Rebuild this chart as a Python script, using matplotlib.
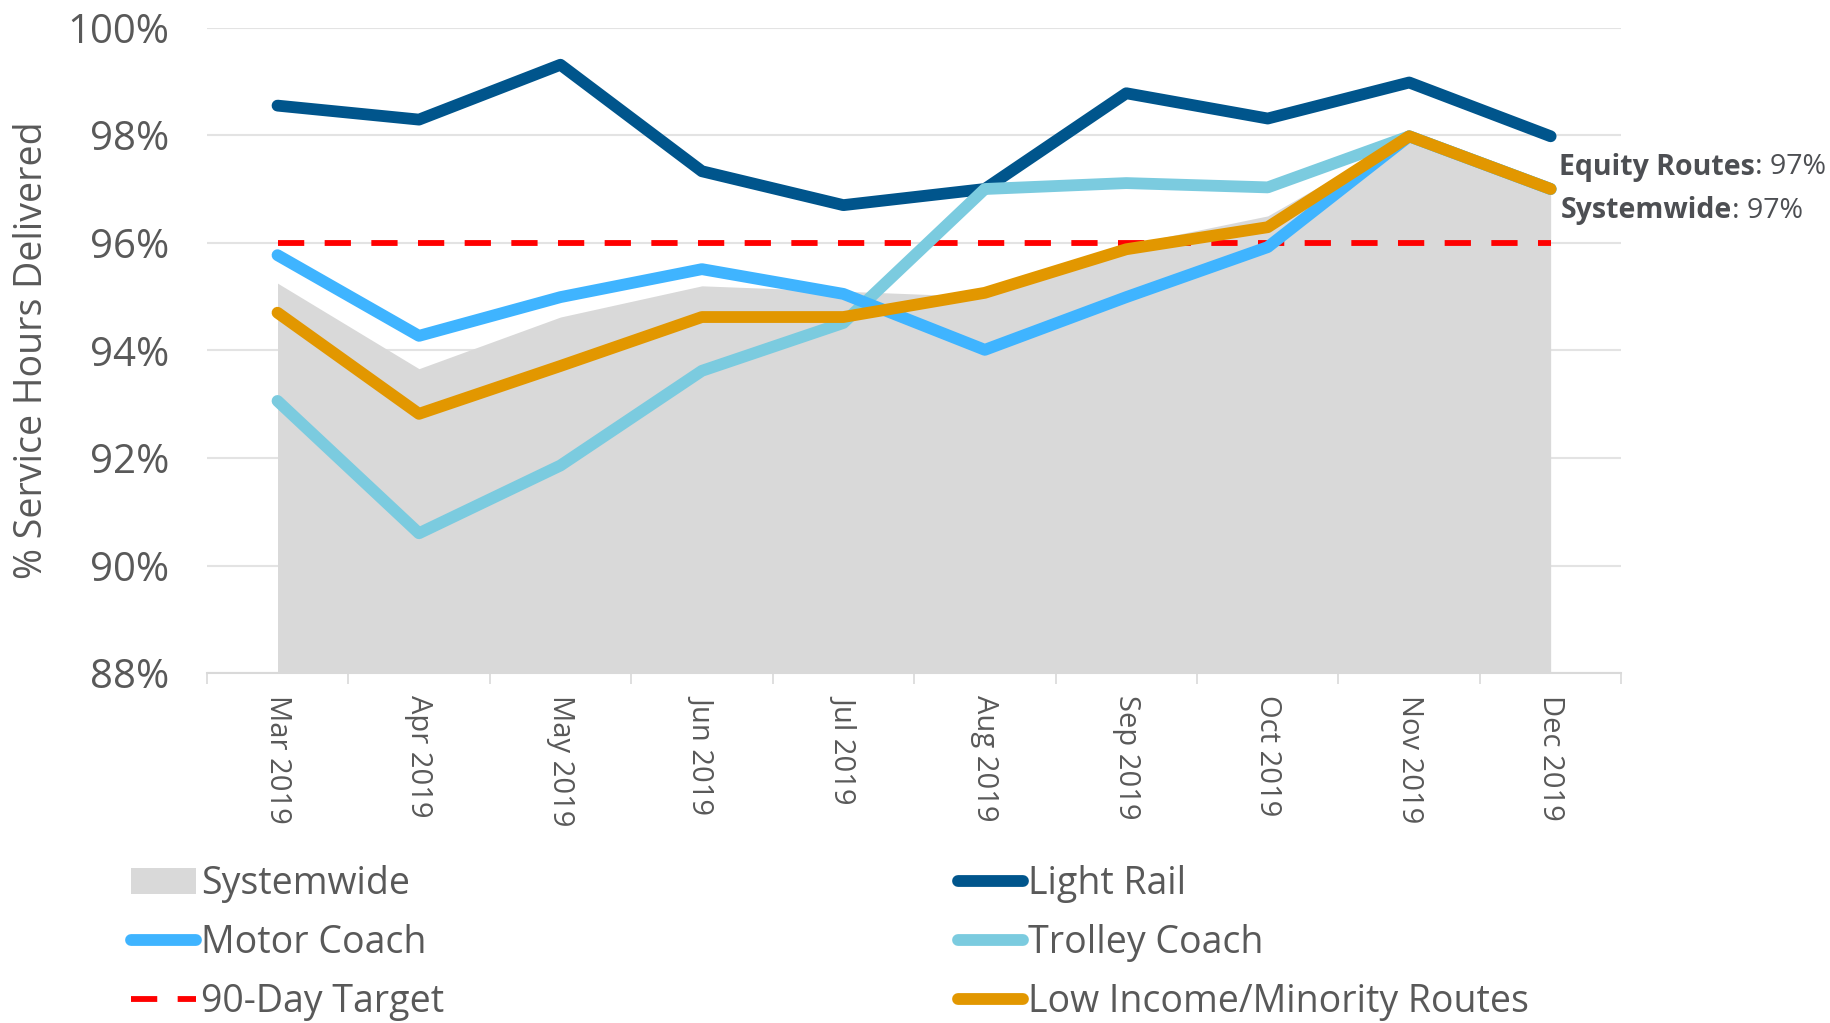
#service hours delivered chart
import matplotlib
matplotlib.use("Agg")
import matplotlib.pyplot as plt
from matplotlib.ticker import FixedLocator


# months on the x axis
months = ["Mar 2019", "Apr 2019", "May 2019", "Jun 2019", "Jul 2019",
          "Aug 2019", "Sep 2019", "Oct 2019", "Nov 2019", "Dec 2019"]

# % service hours delivered
systemwide = [95.25, 93.66, 94.62, 95.2, 95.1, 95.0, 95.96, 96.5, 98.0, 97.0]
light_rail = [98.55, 98.29, 99.31, 97.33, 96.7, 97.0, 98.78, 98.31, 98.98, 97.98]
motor_coach = [95.77, 94.27, 94.99, 95.51, 95.05, 94.01, 94.99, 95.92, 97.98, 97.0]
trolley_coach = [93.06, 90.6, 91.86, 93.62, 94.51, 97.0, 97.11, 97.03, 97.98, 97.0]
low_income = [94.7, 92.82, 93.71, 94.62, 94.62, 95.07, 95.88, 96.29, 97.98, 97.0]
target = [96] * len(months)

y_ticks = [88, 90, 92, 94, 96, 98, 100]

TEXT_COLOR = "#595959"
FONT = "Open Sans"


def plot_service_hours():
    plt.rcParams["font.family"] = [FONT, "DejaVu Sans"]

    fig = plt.figure(figsize=(18.3, 10.23), dpi=100)
    ax = fig.add_axes([0.113, 0.342, 0.773, 0.631])

    x = list(range(len(months)))

    # gray area for systemwide
    area = ax.fill_between(x, 88, systemwide, color="#D9D9D9", linewidth=0,
                           label="Systemwide", zorder=2)

    # the lines
    lw = 8.5
    lr, = ax.plot(x, light_rail, color="#00558C", lw=lw, solid_capstyle="round",
                  label="Light Rail", zorder=4)
    tc, = ax.plot(x, trolley_coach, color="#7BCBDF", lw=lw, solid_capstyle="round",
                  label="Trolley Coach", zorder=4)
    mc, = ax.plot(x, motor_coach, color="#3FB4FF", lw=lw, solid_capstyle="round",
                  label="Motor Coach", zorder=4)
    li, = ax.plot(x, low_income, color="#E29700", lw=lw, solid_capstyle="round",
                  label="Low Income/Minority Routes", zorder=5)
    tg, = ax.plot(x, target, color="#FF0000", lw=4.2, dashes=(4.5, 3.5),
                  label="90-Day Target", zorder=3)

    # axes setup
    ax.set_xlim(-0.5, len(months) - 0.5)
    ax.set_ylim(88, 100)
    ax.set_yticks(y_ticks)
    ax.set_yticklabels([f"{v}%" for v in y_ticks])
    ax.set_xticks(x)
    ax.set_xticklabels(months, rotation=270, va="top", ha="center")
    ax.xaxis.set_minor_locator(FixedLocator([i - 0.5 for i in range(len(months) + 1)]))

    ax.tick_params(axis="y", length=0, pad=27, labelsize=29, labelcolor=TEXT_COLOR)
    ax.tick_params(axis="x", which="major", length=0, pad=16, labelsize=21,
                   labelcolor=TEXT_COLOR)
    ax.tick_params(axis="x", which="minor", length=8, width=1.2, color="#D9D9D9")

    ax.grid(axis="y", color="#E3E3E3", lw=1.5, zorder=0)
    for side in ["top", "right", "left"]:
        ax.spines[side].set_visible(False)
    ax.spines["bottom"].set_color("#D9D9D9")
    ax.spines["bottom"].set_linewidth(1.5)

    ax.set_ylabel("% Service Hours Delivered", fontsize=27, color=TEXT_COLOR,
                  labelpad=12)

    # equity / systemwide note at the end
    t1 = ax.annotate("Equity Routes", xy=(x[-1], 97.4), xytext=(6, 0),
                     textcoords="offset points", fontsize=20.5, fontweight="bold",
                     color="#4D4F53", va="center", ha="left", annotation_clip=False)
    ax.annotate(": 97%", xy=(1, 0.5), xycoords=t1, fontsize=20.5, color="#4D4F53",
                va="center", ha="left")
    t2 = ax.annotate("Systemwide", xy=(x[-1], 96.6), xytext=(7, 0),
                     textcoords="offset points", fontsize=20.5, fontweight="bold",
                     color="#4D4F53", va="center", ha="left", annotation_clip=False)
    ax.annotate(": 97%", xy=(1, 0.5), xycoords=t2, fontsize=20.5, color="#4D4F53",
                va="center", ha="left")

    # legend, two columns filled top to bottom
    handles = [area, mc, tg, lr, tc, li]
    leg = fig.legend(handles, [h.get_label() for h in handles], ncol=2,
                     loc="upper left", bbox_to_anchor=(0.053, 0.187),
                     frameon=False, fontsize=27, handlelength=1.75,
                     handletextpad=0.12, columnspacing=13.7, labelspacing=0.55)
    for text in leg.get_texts():
        text.set_color(TEXT_COLOR)

    fig.savefig("out.png", dpi=100)


def main():
    plot_service_hours()


if __name__ == "__main__":
    main()
